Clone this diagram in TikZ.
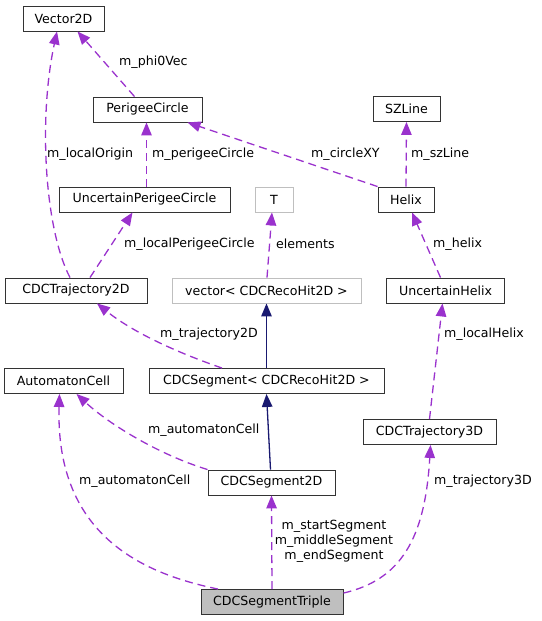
\documentclass[tikz,border=0pt]{standalone}
\usepackage{fontspec}
\setmainfont{DejaVu Sans}
\usetikzlibrary{arrows.meta}
\definecolor{member}{HTML}{9A32CD}
\definecolor{inherit}{HTML}{191970}
\definecolor{faint}{HTML}{BFBFBF}
\begin{document}
\begin{tikzpicture}[x=1pt,y=-1pt,>={Triangle[length=13pt,width=10.5pt]}]
\tikzstyle{every node}+=[inner sep=0pt,font=\fontsize{12.6}{15}\selectfont]
\tikzstyle{cls}=[draw=black!80,line width=0.9pt,rectangle,minimum height=25pt]
\tikzstyle{tmpl}=[cls,draw=faint]
\tikzstyle{uses}=[member,->,line width=1.3pt,dash pattern=on 8pt off 5pt]
\tikzstyle{isa}=[inherit,->,line width=1.3pt]
\useasboundingbox (0,0) rectangle (541,621);
% classes
\node [cls,minimum width=81pt] (vec2d) at (63.5,18.5) {Vector2D};
\node [cls,minimum width=109pt] (perigee) at (147.5,109.5) {PerigeeCircle};
\node [cls,minimum width=67pt] (szline) at (406.5,109) {SZLine};
\node [cls,minimum width=171pt] (uperigee) at (144.5,199.5) {UncertainPerigeeCircle};
\node [tmpl,minimum width=38pt] (tparam) at (274,199.5) {T};
\node [cls,minimum width=56pt] (helix) at (406,199.5) {Helix};
\node [cls,minimum width=142pt] (traj2d) at (76,290.5) {CDCTrajectory2D};
\node [tmpl,minimum width=189pt] (vecreco) at (266.5,290.5) {vector< CDCRecoHit2D >};
\node [cls,minimum width=118pt] (uhelix) at (445.5,290.5) {UncertainHelix};
\node [cls,minimum width=119pt] (automaton) at (63.5,381) {AutomatonCell};
\node [cls,minimum width=235pt] (segment) at (266.5,381) {CDCSegment< CDCRecoHit2D >};
\node [cls,minimum width=133pt] (traj3d) at (429.5,432) {CDCTrajectory3D};
\node [cls,minimum width=127pt] (seg2d) at (271.5,482.5) {CDCSegment2D};
\node [cls,fill=faint,minimum width=142pt] (triple) at (272,602) {CDCSegmentTriple};
% relations
\draw [uses] ([xshift=-6pt]traj2d.north) .. controls (45,230) and (38,120) .. ([xshift=-6.5pt]vec2d.south);
\draw (47,154) node [right] {m\_localOrigin};
\draw [uses] ([xshift=-13pt]perigee.north) -- ([xshift=14pt]vec2d.south);
\draw (119,62) node [right] {m\_phi0Vec};
\draw [uses] ([xshift=2pt]uperigee.north) -- ([xshift=-1pt]perigee.south);
\draw (152,154) node [right] {m\_perigeeCircle};
\draw [uses] ([xshift=14pt]traj2d.north) -- ([xshift=-12pt]uperigee.south);
\draw (124,244) node [right] {m\_localPerigeeCircle};
\draw [uses] (helix.north west) -- ([xshift=40pt]perigee.south);
\draw (311,154) node [right] {m\_circleXY};
\draw [uses] (helix.north) -- (szline.south);
\draw (411,154) node [right] {m\_szLine};
\draw [uses] ([xshift=0.5pt]vecreco.north) -- ([xshift=-2pt]tparam.south);
\draw (276,244) node [right] {elements};
\draw [uses] ([xshift=-5pt]uhelix.north) -- ([xshift=6pt]helix.south);
\draw (433,244) node [right] {m\_helix};
\draw [isa] (segment.north) -- (vecreco.south);
\draw [uses] ([xshift=-44.5pt]segment.north) .. controls (170,350) and (130,330) .. ([xshift=21pt]traj2d.south);
\draw (160,334) node [right] {m\_trajectory2D};
\draw [uses] (traj3d.north) -- ([xshift=-3pt]uhelix.south);
\draw (444,334) node [right] {m\_localHelix};
\draw [isa] ([xshift=-1pt]seg2d.north) -- (segment.south);
\draw [uses] (seg2d.north west) .. controls (160,455) and (110,425) .. ([xshift=13pt]automaton.south);
\draw (148,430) node [right] {m\_automatonCell};
\draw [uses] ([xshift=-54pt]triple.north) .. controls (150,575) and (55,540) .. ([xshift=-4pt]automaton.south);
\draw (79,481) node [right] {m\_automatonCell};
\draw [uses] (triple.north) -- (seg2d.south);
\draw (334,541) node [align=center] {m\_startSegment\\m\_middleSegment\\m\_endSegment};
\draw [uses] ([yshift=-4pt]triple.north east) .. controls (400,580) and (425,540) .. ([xshift=1pt]traj3d.south);
\draw (434,481) node [right] {m\_trajectory3D};
\end{tikzpicture}
\end{document}
